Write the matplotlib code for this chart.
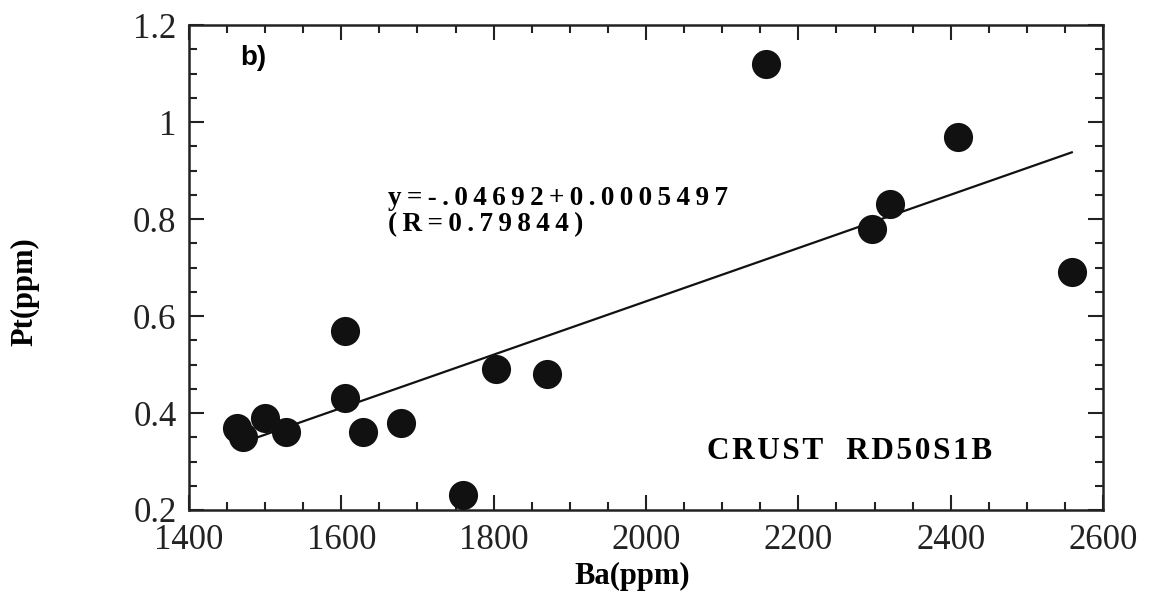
import matplotlib.pyplot as plt
import matplotlib.ticker as mticker
import numpy as np

# Ba vs Pt, crust sample RD50S1B
ba = [1463, 1471, 1500, 1527, 1605, 1605, 1628, 1678, 1760, 1803, 1870,
      2157, 2297, 2320, 2410, 2559]
pt = [0.37, 0.35, 0.39, 0.36, 0.57, 0.43, 0.36, 0.38, 0.23, 0.49, 0.48,
      1.12, 0.78, 0.83, 0.97, 0.69]

# regression line as printed on the figure
intercept = -0.4692
slope = 0.0005497
eq_line1 = 'y=-.04692+0.0005497'
eq_line2 = '(R=0.79844)'
sample_words = ['CRUST', 'RD50S1B']

plt.rcParams['font.family'] = ['Liberation Serif', 'DejaVu Serif']

fig = plt.figure(figsize=(11.52, 6), dpi=100)
ax = fig.add_axes([0.164, 0.15, 0.7935, 0.8083])

ax.scatter(ba, pt, s=440, color='#111111', zorder=3, linewidths=0)

xfit = np.array([min(ba), max(ba)])
ax.plot(xfit, intercept + slope * xfit, color='#111111', linewidth=1.6, zorder=2)

ax.set_xlim(1400, 2600)
ax.set_ylim(0.2, 1.2)
ax.xaxis.set_major_locator(mticker.MultipleLocator(200))
ax.xaxis.set_minor_locator(mticker.MultipleLocator(50))
ax.yaxis.set_major_locator(mticker.MultipleLocator(0.2))
ax.yaxis.set_minor_locator(mticker.MultipleLocator(0.05))
ax.yaxis.set_major_formatter(mticker.FuncFormatter(lambda v, _: f"{v:g}"))

ax.tick_params(which='both', direction='in', top=True, right=True,
               labelsize=25, colors='#222222', width=1.5)
ax.tick_params(which='major', length=11)
ax.tick_params(which='minor', length=6)
ax.tick_params(axis='x', which='major', pad=10)
ax.tick_params(axis='y', which='major', pad=9)
for sp in ax.spines.values():
    sp.set_linewidth(1.8)
    sp.set_color('#222222')

ax.set_xlabel('Ba(ppm)', fontsize=22, fontweight='bold')
ax.set_ylabel('Pt(ppm)', fontsize=22, fontweight='bold')
ax.xaxis.set_label_coords(0.485, -0.108)
ax.yaxis.set_label_coords(-0.164, 0.45)

ax.text(1467, 1.132, 'b)', fontsize=20, fontweight='bold',
        family=['Liberation Sans', 'DejaVu Sans'], va='center')

# wide letter tracking like the original print
thin = '\u2009'
hair = '\u200a'
ax.text(1661, 0.815, thin.join(eq_line1) + '\n' + thin.join(eq_line2),
        fontsize=19.5, fontweight='bold', va='center', linespacing=1.05)
ax.text(2080, 0.32, '   '.join(hair.join(w) for w in sample_words),
        fontsize=22.5, fontweight='bold', va='center')

fig.savefig('out.png', dpi=100)
